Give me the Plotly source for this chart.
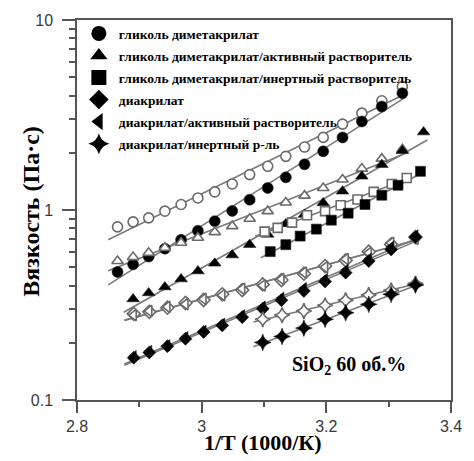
import numpy as np
import plotly.graph_objects as go

# ---------------- data ----------------
x_gdm = [2.865, 2.890, 2.915, 2.941, 2.967, 2.994, 3.021, 3.049, 3.077, 3.106,
         3.135, 3.165, 3.195, 3.226, 3.257, 3.289, 3.322]
gdm_filled = [0.472, 0.518, 0.569, 0.626, 0.697, 0.777, 0.873, 0.989, 1.133, 1.306,
              1.486, 1.740, 2.036, 2.411, 2.925, 3.506, 4.118]
gdm_open = [0.815, 0.866, 0.909, 0.986, 1.069, 1.157, 1.245, 1.371, 1.536, 1.698,
            1.916, 2.144, 2.411, 2.831, 3.233, 3.756, 4.466]

x_gdm_act_filled = [2.890, 2.915, 2.941, 2.967, 2.994, 3.021, 3.049, 3.077, 3.106, 3.135,
                    3.165, 3.195, 3.226, 3.257, 3.289, 3.322, 3.356]
gdm_act_filled = [0.340, 0.366, 0.393, 0.433, 0.477, 0.524, 0.579, 0.657, 0.744, 0.845,
                  0.947, 1.090, 1.255, 1.504, 1.733, 2.052, 2.570]
x_gdm_act_open = x_gdm
gdm_act_open = [0.539, 0.565, 0.595, 0.632, 0.672, 0.714, 0.765, 0.822, 0.900, 0.986,
                1.095, 1.190, 1.306, 1.446, 1.651, 1.863, 2.085]

x_gdm_inert_filled = [3.110, 3.135, 3.158, 3.184, 3.208, 3.235, 3.262, 3.289, 3.315, 3.351]
gdm_inert_filled = [0.604, 0.657, 0.729, 0.793, 0.884, 0.962, 1.069, 1.196, 1.350, 1.598]
x_gdm_inert_open = [3.101, 3.122, 3.145, 3.169, 3.198, 3.223, 3.250, 3.276, 3.305, 3.329]
gdm_inert_open = [0.769, 0.805, 0.858, 0.939, 0.986, 1.060, 1.135, 1.245, 1.371, 1.474]

x_da = [2.891, 2.916, 2.945, 2.974, 3.003, 3.033, 3.065, 3.098, 3.128, 3.164,
        3.198, 3.231, 3.268, 3.304, 3.343]
da_filled = [0.167, 0.178, 0.192, 0.210, 0.228, 0.247, 0.273, 0.302, 0.335, 0.375,
             0.420, 0.468, 0.539, 0.620, 0.720]
da_open = [0.284, 0.291, 0.306, 0.324, 0.336, 0.360, 0.379, 0.406, 0.428, 0.462,
           0.507, 0.543, 0.603, 0.659, 0.720]
da_act_filled = [0.170, 0.181, 0.194, 0.214, 0.231, 0.252, 0.279, 0.310, 0.345, 0.388,
                 0.433, 0.483, 0.552, 0.640, 0.735]
da_act_open = [0.280, 0.294, 0.309, 0.320, 0.340, 0.356, 0.384, 0.401, 0.433, 0.468,
               0.500, 0.552, 0.595, 0.672, 0.705]

x_star = [3.098, 3.129, 3.164, 3.198, 3.231, 3.268, 3.304, 3.343]
star_filled = [0.201, 0.216, 0.239, 0.266, 0.288, 0.319, 0.360, 0.403]
star_open = [0.266, 0.280, 0.294, 0.315, 0.335, 0.357, 0.378, 0.410]

legend_names = [
    "гликоль диметакрилат",
    "гликоль диметакрилат/активный растворитель",
    "гликоль диметакрилат/инертный растворитель",
    "диакрилат",
    "диакрилат/активный растворитель",
    "диакрилат/инертный р-ль",
]
legend_symbols = ["circle", "triangle-up", "square", "diamond", "triangle-left", "star-diamond"]

x_ticks = [2.8, 3.0, 3.2, 3.4]
x_ticklabels = ["2.8", "3", "3.2", "3.4"]
y_ticks = [0.1, 1, 10]
y_ticklabels = ["0.1", "1", "10"]

# ---------------- figure ----------------
series = [
    (x_gdm, gdm_open, "circle", False, 10),
    (x_gdm, gdm_filled, "circle", True, 11),
    (x_gdm_act_open, gdm_act_open, "triangle-up", False, 10),
    (x_gdm_act_filled, gdm_act_filled, "triangle-up", True, 11),
    (x_gdm_inert_open, gdm_inert_open, "square", False, 9),
    (x_gdm_inert_filled, gdm_inert_filled, "square", True, 10),
    (x_da, da_open, "diamond", False, 10),
    (x_da, da_act_open, "triangle-left", False, 10),
    (x_da, da_filled, "diamond", True, 10),
    (x_da, da_act_filled, "triangle-left", True, 10),
    (x_star, star_open, "star-diamond", False, 11),
    (x_star, star_filled, "star-diamond", True, 12),
]

LINE_GRAY = "#7a7a7a"
fig = go.Figure()

# fitted Arrhenius lines (log10(eta) linear in 1/T)
for xs, ys, sym, filled, sz in series:
    xa = np.array(xs)
    la = np.log10(np.array(ys))
    k, b = np.polyfit(xa, la, 1)
    xl = np.array([xa.min() - 0.015, xa.max() + 0.006])
    fig.add_trace(go.Scatter(x=xl, y=10 ** (k * xl + b), mode="lines",
                             line=dict(color=LINE_GRAY, width=1.6),
                             showlegend=False, hoverinfo="skip"))

for xs, ys, sym, filled, sz in series:
    if filled:
        mk = dict(symbol=sym, size=sz, color="black", line=dict(color="#222", width=0.6))
    else:
        mk = dict(symbol=sym, size=sz, color="white", line=dict(color="#6a6a6a", width=1.6))
    fig.add_trace(go.Scatter(x=xs, y=ys, mode="markers", marker=mk, showlegend=False))

for i, (name, sym) in enumerate(zip(legend_names, legend_symbols)):
    fig.add_trace(go.Scatter(x=[None], y=[None], mode="markers", name=name,
                             legendgroup=f"g{i}",
                             marker=dict(symbol=sym, size=15, color="black",
                                         line=dict(color="black", width=0))))

AX_COL = "#555555"
fig.update_xaxes(range=[2.8, 3.4], tickmode="array", tickvals=x_ticks, ticktext=x_ticklabels,
                 ticks="outside", ticklen=11, tickwidth=1.5, tickcolor=AX_COL,
                 showline=True, linecolor=AX_COL, linewidth=1.5, mirror=True,
                 showgrid=False, zeroline=False,
                 tickfont=dict(family="Liberation Sans, Arial", size=16, color="#3a3a3a"),
                 minor=dict(tickvals=[2.9, 3.1, 3.3], ticks="outside", ticklen=5,
                            tickwidth=1.5, tickcolor=AX_COL))
fig.update_yaxes(type="log", range=[-1, 1], tickmode="array", tickvals=y_ticks,
                 ticktext=y_ticklabels,
                 ticks="outside", ticklen=13, tickwidth=1.5, tickcolor=AX_COL,
                 showline=True, linecolor=AX_COL, linewidth=1.5, mirror=True,
                 showgrid=False, zeroline=False, ticklabelstandoff=6,
                 tickfont=dict(family="Liberation Sans, Arial", size=16, color="#3a3a3a"),
                 minor=dict(tickvals=[0.2, 0.3, 0.4, 0.5, 0.6, 0.7, 0.8, 0.9,
                                      2, 3, 4, 5, 6, 7, 8, 9],
                            ticks="outside", ticklen=6, tickwidth=1.5, tickcolor=AX_COL))

SERIF = "Liberation Serif, Times New Roman, serif"
fig.update_layout(
    width=474, height=461,
    margin=dict(l=77, r=13, t=18, b=61),
    plot_bgcolor="white", paper_bgcolor="white",
    showlegend=True,
    legend=dict(x=0.005, y=1.005, xanchor="left", yanchor="top",
                bgcolor="rgba(0,0,0,0)", borderwidth=0, tracegroupgap=1.5,
                font=dict(family=SERIF, size=13.5, color="black", weight="bold"),
                itemsizing="trace"),
    annotations=[
        dict(text="1/T (1000/К)", xref="paper", yref="paper", x=0.496, y=-0.111,
             xanchor="center", yanchor="middle", showarrow=False,
             font=dict(family=SERIF, size=22, color="black", weight="bold")),
        dict(text="Вязкость (Па·с)", xref="paper", yref="paper", x=-0.123, y=0.498,
             xanchor="center", yanchor="middle", showarrow=False, textangle=-90,
             font=dict(family=SERIF, size=24, color="black", weight="bold")),
        dict(text="SiO<sub>2</sub> 60 об.%", xref="paper", yref="paper", x=0.884, y=0.09,
             xanchor="right", yanchor="middle", showarrow=False,
             font=dict(family=SERIF, size=20, color="black", weight="bold")),
    ],
)

fig.write_html("out.html")
